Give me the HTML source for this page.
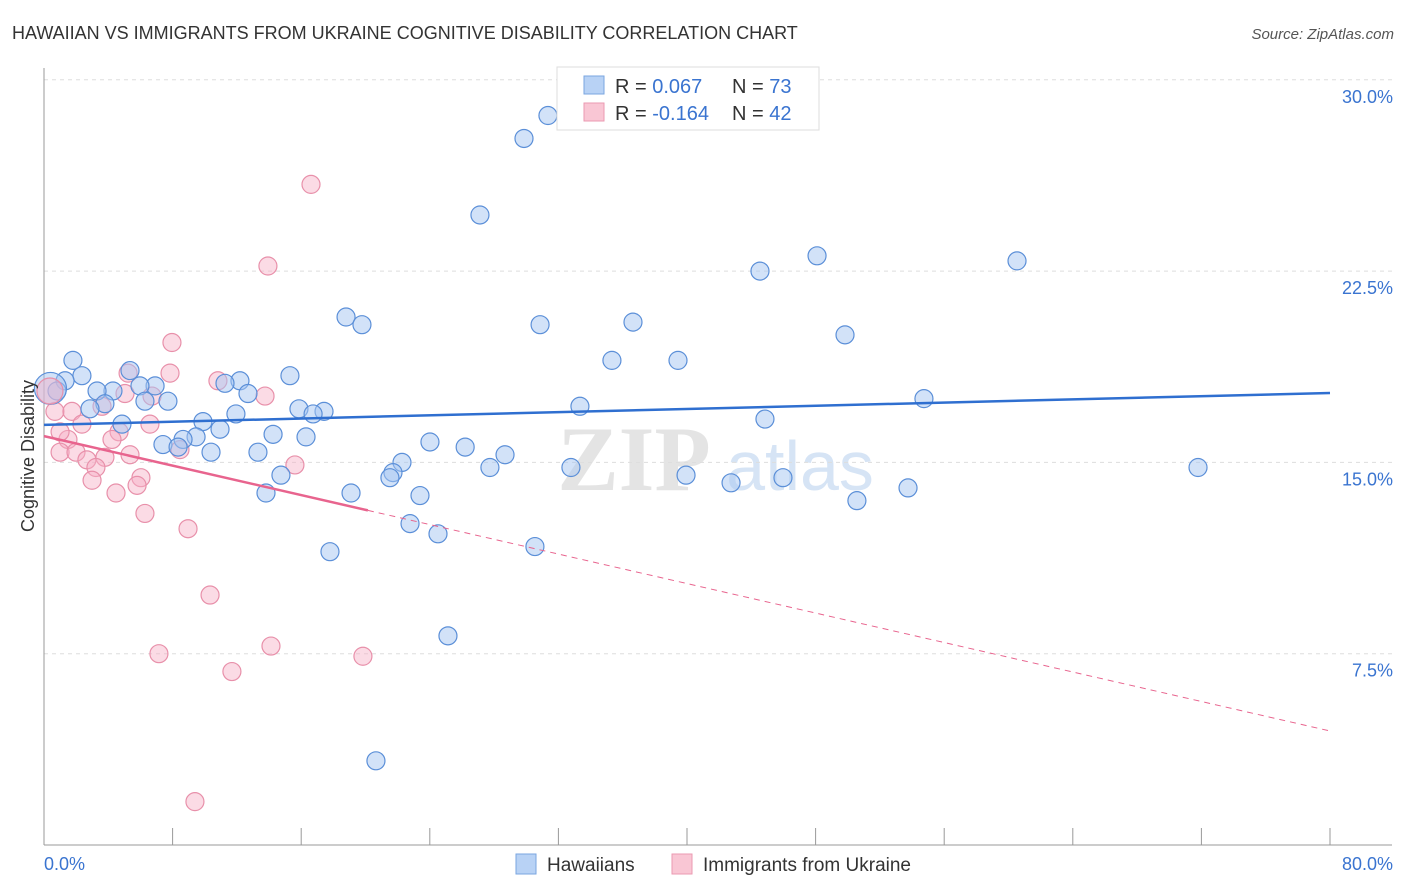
<!DOCTYPE html>
<html><head><meta charset="utf-8"><style>
body{margin:0;background:#fff;font-family:"Liberation Sans",sans-serif}
svg{display:block}
</style></head><body>
<svg id="c" width="1406" height="892" xmlns="http://www.w3.org/2000/svg">
<text x="12" y="39" font-size="18" fill="#333">HAWAIIAN VS IMMIGRANTS FROM UKRAINE COGNITIVE DISABILITY CORRELATION CHART</text>
<text x="1394" y="39" font-size="15" fill="#555" text-anchor="end" font-style="italic">Source: ZipAtlas.com</text>
<g><text x="634" y="490" font-size="92" fill="#e4e4e4" text-anchor="middle" font-family="Liberation Serif,serif" font-weight="bold">ZIP</text><text x="800" y="490" font-size="70" fill="#d6e4f5" text-anchor="middle">atlas</text></g>
<g id="grid"></g><g id="axes"></g><g id="marks"></g>
<text transform="translate(34,456) rotate(-90)" font-size="18" fill="#333" text-anchor="middle">Cognitive Disability</text>
<g>
<rect x="557" y="67" width="262" height="63" fill="#fff" stroke="#ddd"/>
<rect x="584" y="76" width="20" height="18" fill="#b8d2f5" stroke="#7aa6e0"/>
<rect x="584" y="103" width="20" height="18" fill="#f9c6d4" stroke="#eb9ab2"/>
<text x="615" y="93" font-size="20" fill="#333">R = <tspan fill="#3a74d0"> 0.067</tspan><tspan x="732">N = </tspan><tspan fill="#3a74d0">73</tspan></text>
<text x="615" y="120" font-size="20" fill="#333">R = <tspan fill="#3a74d0">-0.164</tspan><tspan x="732">N = </tspan><tspan fill="#3a74d0">42</tspan></text>
</g>
<g>
<rect x="516" y="854" width="20" height="20" fill="#b8d2f5" stroke="#7aa6e0"/>
<text x="547" y="871" font-size="19" fill="#333">Hawaiians</text>
<rect x="672" y="854" width="20" height="20" fill="#f9c6d4" stroke="#eb9ab2"/>
<text x="703" y="871" font-size="19" fill="#333">Immigrants from Ukraine</text>
</g>
</svg>
<script>
const yTicks=[7.5,15,22.5,30];
const yTickLabels=["7.5%","15.0%","22.5%","30.0%"];
const xTicks=[0,8,16,24,32,40,48,56,64,72,80];
const blueX=[31.35,29.86,27.12,48.09,44.54,60.53,18.79,19.78,30.86,36.64,49.83,35.33,39.44,1.8,5.35,2.36,1.31,15.3,12.19,11.26,6.91,5.97,4.29,3.3,0.81,12.69,7.71,6.28,3.79,54.74,33.34,2.86,15.86,17.42,16.74,11.94,9.89,44.85,4.85,10.95,14.25,16.3,9.46,8.65,7.4,24.01,26.2,8.34,10.39,13.31,28.68,22.27,27.74,32.78,21.71,21.52,39.94,45.97,14.74,42.74,71.79,53.75,13.81,19.1,23.39,50.57,22.77,24.51,17.79,30.54,25.13,20.65];
const blueY=[28.6,27.7,24.7,23.1,22.5,22.9,20.7,20.4,20.4,20.5,20.0,19.0,19.0,19.0,18.6,18.4,18.2,18.4,18.2,18.1,18.0,18.0,17.8,17.8,17.8,17.7,17.4,17.4,17.3,17.5,17.2,17.1,17.1,17.0,16.9,16.9,16.6,16.7,16.5,16.3,16.1,16.0,16.0,15.9,15.7,15.8,15.6,15.6,15.4,15.4,15.3,15.0,14.8,14.8,14.6,14.4,14.5,14.4,14.5,14.2,14.8,14.0,13.8,13.8,13.7,13.5,12.6,12.2,11.5,11.7,8.2,3.3];
const pinkX=[16.61,13.93,7.96,7.84,10.82,5.23,6.72,5.04,13.75,3.61,0.68,1.74,2.36,6.59,4.67,1.49,4.23,8.46,1.0,1.99,5.35,2.67,3.79,3.23,15.61,6.03,2.99,5.79,4.48,6.28,8.96,10.33,7.15,14.12,19.84,11.69,9.39,1.0];
const pinkY=[25.9,22.7,19.7,18.5,18.2,18.5,17.6,17.7,17.6,17.2,17.0,17.0,16.5,16.5,16.2,15.9,15.9,15.5,15.4,15.4,15.3,15.1,15.2,14.8,14.9,14.4,14.3,14.1,13.8,13.0,12.4,9.8,7.5,7.8,7.4,6.8,1.7,16.2];
const bigBlue=[0.4,17.9], bigPink=[0.37,17.8];
const blueTrend=[16.47,17.72]; // y at x=0 and x=80
const pinkTrend=[16.03,4.47];
const pinkSolidEnd=20.15;
const NS="http://www.w3.org/2000/svg";
const sx=v=>44+v/80*1286, sy=v=>845-v/7.5*191.3;
function mk(t,a,p){const e=document.createElementNS(NS,t);for(const k in a)e.setAttribute(k,a[k]);document.getElementById(p).appendChild(e);return e;}
yTicks.forEach((t,i)=>{
 const l=mk('line',{x1:44,x2:1392,y1:sy(t),y2:sy(t),stroke:'#ddd','stroke-dasharray':'4,4'},'grid');
 
 
 const tx=mk('text',{x:1393,y:sy(t)+23,'font-size':18,fill:'#3a74d0','text-anchor':'end'},'axes');
 tx.textContent=yTickLabels[i];
 
 
});
let a=mk('line',{x1:44,x2:44,y1:68,y2:845,stroke:'#999'},'axes');


a=mk('line',{x1:44,x2:1392,y1:845,y2:845,stroke:'#999'},'axes');


xTicks.forEach(t=>{
 const l=mk('line',{x1:sx(t),x2:sx(t),y1:828,y2:845,stroke:'#999'},'axes');
 
 
});
let t0=mk('text',{x:44,y:870,'font-size':18,fill:'#3a74d0'},'axes');t0.textContent='0.0%';


t0=mk('text',{x:1393,y:870,'font-size':18,fill:'#3a74d0','text-anchor':'end'},'axes');t0.textContent='80.0%';


function dot(x,y,r,c){
 const e=mk('circle',{cx:sx(x),cy:sy(y),r:r,fill:c[0],stroke:c[1],'stroke-width':1.2},'marks');
 
 
}
const BC=['rgba(165,198,242,0.5)','#5b8fd8'], PC=['rgba(246,175,198,0.45)','#e890aa'];
pinkX.forEach((x,i)=>dot(x,pinkY[i],9,PC));
blueX.forEach((x,i)=>dot(x,blueY[i],9,BC));
dot(bigBlue[0],bigBlue[1],16,BC);dot(bigPink[0],bigPink[1],13,PC);
let tl=mk('line',{x1:sx(0),y1:sy(blueTrend[0]),x2:sx(80),y2:sy(blueTrend[1]),stroke:'#2f6fd0','stroke-width':2.5},'marks');


const py=x=>pinkTrend[0]+(pinkTrend[1]-pinkTrend[0])*x/80;
tl=mk('line',{x1:sx(0),y1:sy(py(0)),x2:sx(pinkSolidEnd),y2:sy(py(pinkSolidEnd)),stroke:'#e8648e','stroke-width':2.5},'marks');


tl=mk('line',{x1:sx(pinkSolidEnd),y1:sy(py(pinkSolidEnd)),x2:sx(80),y2:sy(py(80)),stroke:'#e8648e','stroke-width':1,'stroke-dasharray':'6,5'},'marks');


</script>
</body></html>
